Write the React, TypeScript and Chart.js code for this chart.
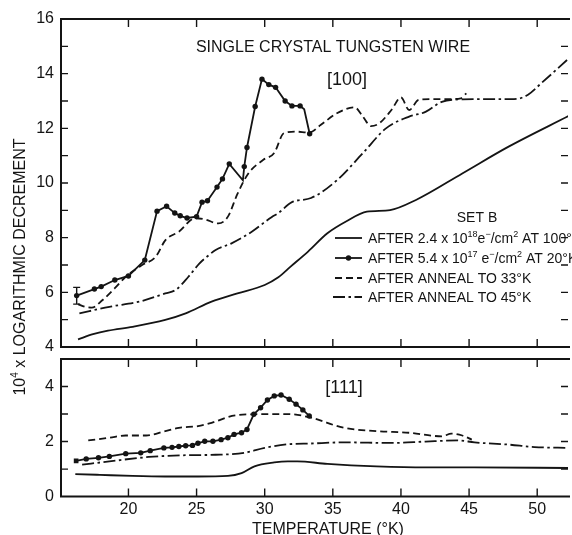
import React, { useEffect, useRef } from "react";
import { Chart, registerables } from "chart.js";

Chart.register(...registerables);

type P = [number, number];

const INK = "#141414";
const FONT = "'Liberation Sans', Arial, sans-serif";

// ---- axes ----
const X_MIN = 15.05;
const X_MAX = 52.26;
const X_TICKS = [20, 25, 30, 35, 40, 45, 50];
const TOP_Y_LABELS = [4, 6, 8, 10, 12, 14, 16];
const TOP_Y_MINOR = [5, 6, 7, 8, 9, 10, 11, 12, 13, 14, 15];
const BOT_Y_LABELS = [0, 2, 4];
const BOT_Y_MINOR = [1, 2, 3, 4];

// ---- [100] panel ----
const top100K: P[] = [
  [16.3, 4.28], [17.4, 4.47], [18.5, 4.6], [20.3, 4.74], [22.7, 4.99], [24.2, 5.23],
  [26.1, 5.66], [28.0, 5.96], [30.0, 6.27], [31.0, 6.55], [31.9, 6.94], [33.2, 7.5],
  [34.6, 8.16], [36.0, 8.6], [37.5, 8.95], [39.2, 9.01], [41.1, 9.38], [44.5, 10.35],
  [47.9, 11.33], [52.3, 12.45],
];
const top20K: P[] = [
  [16.2, 5.88], [17.5, 6.12], [18.0, 6.21], [19.0, 6.45], [20.0, 6.6], [21.2, 7.18],
  [22.1, 8.97], [22.8, 9.15], [23.4, 8.9], [23.8, 8.8], [24.3, 8.72], [25.0, 8.77],
  [25.4, 9.3], [25.8, 9.35], [26.5, 9.85], [26.9, 10.15], [27.4, 10.7], [28.4, 10.1],
  [28.5, 10.6], [28.7, 11.3], [29.3, 12.8], [29.8, 13.8], [30.3, 13.6], [30.8, 13.5],
  [31.5, 13.0], [32.0, 12.82], [32.6, 12.82], [32.9, 12.7], [33.3, 11.8],
];
const top20KDots = [1, 1, 1, 1, 1, 1, 1, 1, 1, 1, 1, 1, 1, 1, 1, 1, 1, 0, 1, 1, 1, 1, 1, 1, 1, 1, 1, 0, 1];
const top33K: P[] = [
  [16.3, 5.57], [16.8, 5.47], [17.3, 5.44], [18.1, 5.72], [19.0, 6.15], [19.8, 6.57],
  [21.0, 7.0], [22.0, 7.3], [22.7, 7.9], [23.7, 8.22], [24.9, 8.71], [25.6, 8.67],
  [26.6, 8.52], [27.3, 8.77], [28.0, 9.6], [28.8, 10.35], [29.9, 10.85], [30.7, 11.1],
  [31.4, 11.82], [32.2, 11.88], [33.3, 11.85], [34.1, 12.12], [35.3, 12.55], [36.6, 12.77],
  [37.2, 12.43], [37.8, 12.08], [38.4, 12.18], [39.3, 12.67], [40.0, 13.13], [40.6, 12.67],
  [41.3, 13.04], [42.3, 13.07], [43.5, 13.07], [44.4, 13.1], [44.8, 13.28],
];
const top45K: P[] = [
  [16.4, 5.23], [18.6, 5.47], [20.8, 5.66], [22.7, 5.96], [23.5, 6.1], [24.4, 6.57],
  [25.2, 7.05], [25.9, 7.36], [26.4, 7.55], [27.6, 7.8], [29.0, 8.2], [30.5, 8.75],
  [31.0, 8.9], [32.0, 9.3], [33.4, 9.45], [35.3, 10.1], [37.2, 11.09], [38.9, 12.0],
  [40.6, 12.43], [41.8, 12.6], [43.0, 12.97], [44.5, 13.06], [46.5, 13.07], [48.3, 13.07],
  [49.3, 13.22], [50.3, 13.65], [52.3, 14.55],
];
const topErrorBar = { x: 16.2, lo: 5.57, hi: 6.18 };

// ---- [111] panel ----
const bot100K: P[] = [
  [16.1, 0.82], [17.9, 0.79], [20.3, 0.75], [22.7, 0.73], [25.1, 0.73], [27.3, 0.75],
  [28.3, 0.85], [29.25, 1.1], [30.7, 1.24], [31.7, 1.28], [32.4, 1.28], [34.6, 1.19],
  [38.2, 1.1], [41.8, 1.06], [45.4, 1.06], [52.3, 1.04],
];
const bot20K: P[] = [
  [16.16, 1.3], [16.9, 1.37], [17.8, 1.41], [18.6, 1.46], [19.8, 1.56], [20.9, 1.59],
  [21.6, 1.67], [22.6, 1.77], [23.2, 1.79], [23.7, 1.82], [24.2, 1.85], [24.7, 1.86],
  [25.1, 1.94], [25.6, 2.01], [26.2, 2.01], [26.8, 2.07], [27.3, 2.14], [27.75, 2.26],
  [28.3, 2.32], [28.7, 2.44], [29.2, 2.99], [29.7, 3.23], [30.2, 3.51], [30.7, 3.66],
  [31.2, 3.69], [31.8, 3.54], [32.3, 3.36], [32.8, 3.15], [33.27, 2.93],
];
const bot33K: P[] = [
  [17.05, 2.04], [18.6, 2.14], [19.8, 2.22], [21.3, 2.22], [22.7, 2.38], [23.7, 2.5],
  [25.1, 2.56], [26.1, 2.68], [27.6, 2.93], [29.0, 2.99], [31.7, 3.0], [33.4, 2.87],
  [35.8, 2.5], [38.2, 2.38], [40.6, 2.32], [43.0, 2.19], [43.7, 2.29], [44.5, 2.22],
  [45.2, 2.07],
];
const bot45K: P[] = [
  [16.6, 1.16], [18.6, 1.28], [21.5, 1.44], [23.9, 1.5], [26.4, 1.52], [28.5, 1.59],
  [30.0, 1.77], [31.7, 1.9], [33.4, 1.93], [35.8, 1.97], [39.4, 1.95], [41.8, 2.0],
  [44.2, 2.04], [45.4, 1.97], [47.9, 1.89], [49.8, 1.8], [52.3, 1.77],
];

// ---- texts ----
type Run = { t: string; sup?: boolean };
const TITLE = "SINGLE CRYSTAL TUNGSTEN WIRE";
const TOP_TAG = "[100]";
const BOT_TAG = "[111]";
const LEGEND_HEAD = "SET B";
const LEGEND_ROWS: { style: string; runs: Run[] }[] = [
  { style: "solid", runs: [{ t: "AFTER 2.4 x 10" }, { t: "18", sup: true }, { t: "e" }, { t: "\u2212", sup: true }, { t: "/cm" }, { t: "2", sup: true }, { t: " AT 100\u00B0K" }] },
  { style: "dots", runs: [{ t: "AFTER 5.4 x 10" }, { t: "17", sup: true }, { t: " e" }, { t: "\u2212", sup: true }, { t: "/cm" }, { t: "2", sup: true }, { t: " AT 20\u00B0K" }] },
  { style: "dash", runs: [{ t: "AFTER ANNEAL TO 33\u00B0K" }] },
  { style: "dashdot", runs: [{ t: "AFTER ANNEAL TO 45\u00B0K" }] },
];
const Y_TITLE: Run[] = [{ t: "10" }, { t: "4", sup: true }, { t: " x LOGARITHMIC DECREMENT" }];
const X_TITLE = "TEMPERATURE (\u00B0K)";

const DASH = [7, 4];
const DASHDOT = [12, 3.5, 2.5, 3.5];
const LW = 1.8;

function drawRuns(ctx: CanvasRenderingContext2D, runs: Run[], x: number, y: number, size: number, align: "left" | "center") {
  const fontFor = (r: Run) => `${r.sup ? Math.round(size * 0.65) : size}px ${FONT}`;
  const widths = runs.map((r) => {
    ctx.font = fontFor(r);
    return ctx.measureText(r.t).width;
  });
  const total = widths.reduce((a, b) => a + b, 0);
  let cx = align === "center" ? x - total / 2 : x;
  ctx.textAlign = "left";
  ctx.textBaseline = "alphabetic";
  runs.forEach((r, i) => {
    ctx.font = fontFor(r);
    ctx.fillText(r.t, cx, r.sup ? y - size * 0.42 : y);
    cx += widths[i];
  });
}

function lineDs(data: P[], kind: string, extra: any = {}) {
  const base: any = {
    data: data.map(([x, y]) => ({ x, y })),
    borderColor: INK,
    borderWidth: LW,
    pointRadius: 0,
    fill: false,
    tension: 0.4,
    cubicInterpolationMode: "monotone",
    borderDash: [],
  };
  if (kind === "dash") base.borderDash = DASH;
  if (kind === "dashdot") base.borderDash = DASHDOT;
  if (kind === "dots") {
    base.tension = 0;
    base.cubicInterpolationMode = "default";
    base.pointRadius = 2.7;
    base.pointBackgroundColor = INK;
    base.pointBorderColor = INK;
    base.pointBorderWidth = 0;
  }
  return { ...base, ...extra };
}

function strokeSample(ctx: CanvasRenderingContext2D, style: string, x0: number, x1: number, y: number) {
  ctx.save();
  ctx.strokeStyle = INK;
  ctx.fillStyle = INK;
  ctx.lineWidth = LW;
  ctx.setLineDash(style === "dash" ? DASH : style === "dashdot" ? DASHDOT : []);
  ctx.beginPath();
  ctx.moveTo(x0, y);
  ctx.lineTo(x1, y);
  ctx.stroke();
  if (style === "dots") {
    ctx.beginPath();
    ctx.arc((x0 + x1) / 2, y, 2.7, 0, Math.PI * 2);
    ctx.fill();
  }
  ctx.restore();
}

function panelPlugin(minor: number[], decorate: (chart: any) => void) {
  return {
    id: "panelFrame",
    afterDraw(chart: any) {
      const { ctx, chartArea: a, scales } = chart;
      ctx.save();
      ctx.strokeStyle = INK;
      ctx.lineWidth = 2;
      ctx.beginPath();
      ctx.moveTo(a.right + 2, a.top);
      ctx.lineTo(a.left, a.top);
      ctx.lineTo(a.left, a.bottom);
      ctx.lineTo(a.right + 2, a.bottom);
      ctx.stroke();
      ctx.lineWidth = 1.4;
      ctx.beginPath();
      X_TICKS.forEach((v) => {
        const px = scales.x.getPixelForValue(v);
        ctx.moveTo(px, a.top);
        ctx.lineTo(px, a.top + 8);
        ctx.moveTo(px, a.bottom);
        ctx.lineTo(px, a.bottom - 8);
      });
      minor.forEach((v) => {
        const py = scales.y.getPixelForValue(v);
        ctx.moveTo(a.left, py);
        ctx.lineTo(a.left + 7, py);
        ctx.moveTo(a.right, py);
        ctx.lineTo(a.right - 7, py);
      });
      ctx.stroke();
      ctx.fillStyle = INK;
      decorate(chart);
      ctx.restore();
    },
  };
}

const tickFont = { family: FONT, size: 16 };

function App() {
  const topRef = useRef<HTMLCanvasElement>(null);
  const botRef = useRef<HTMLCanvasElement>(null);

  useEffect(() => {
    const top = new Chart(topRef.current as HTMLCanvasElement, {
      type: "line",
      data: {
        datasets: [
          lineDs(top100K, "solid"),
          lineDs(top20K, "dots", { pointRadius: top20KDots.map((d) => (d ? 2.7 : 0)) }),
          lineDs(top33K, "dash"),
          lineDs(top45K, "dashdot"),
        ],
      },
      options: {
        animation: false,
        responsive: false,
        layout: { padding: { top: 19, bottom: 188, left: 0, right: 0 } },
        plugins: { legend: { display: false }, tooltip: { enabled: false } },
        scales: {
          x: {
            type: "linear",
            min: X_MIN,
            max: X_MAX,
            display: false,
            afterBuildTicks: (s: any) => { s.ticks = X_TICKS.map((v) => ({ value: v })); },
          },
          y: {
            type: "linear",
            min: 4,
            max: 16,
            grid: { display: false, drawTicks: false },
            border: { display: false },
            ticks: { color: INK, font: tickFont, padding: 7 },
            afterBuildTicks: (s: any) => { s.ticks = TOP_Y_LABELS.map((v) => ({ value: v })); },
            afterFit: (s: any) => { s.width = 61; },
          },
        },
      } as any,
      plugins: [
        panelPlugin(TOP_Y_MINOR, (chart: any) => {
          const { ctx, scales } = chart;
          // error bar
          const ex = scales.x.getPixelForValue(topErrorBar.x);
          const ylo = scales.y.getPixelForValue(topErrorBar.lo);
          const yhi = scales.y.getPixelForValue(topErrorBar.hi);
          ctx.lineWidth = 1.4;
          ctx.setLineDash([]);
          ctx.beginPath();
          ctx.moveTo(ex, ylo); ctx.lineTo(ex, yhi);
          ctx.moveTo(ex - 3.5, ylo); ctx.lineTo(ex + 3.5, ylo);
          ctx.moveTo(ex - 3.5, yhi); ctx.lineTo(ex + 3.5, yhi);
          ctx.stroke();
          // title & tag
          ctx.font = `16px ${FONT}`;
          ctx.textAlign = "center";
          ctx.textBaseline = "alphabetic";
          ctx.fillText(TITLE, 333, 52);
          ctx.font = `18px ${FONT}`;
          ctx.fillText(TOP_TAG, 347, 85);
          // legend
          ctx.font = `14px ${FONT}`;
          ctx.fillText(LEGEND_HEAD, 477, 222);
          const bases = [243, 263, 283, 302];
          LEGEND_ROWS.forEach((row, i) => {
            strokeSample(ctx, row.style, row.style === "dashdot" ? 333 : 335, 362, bases[i] - 5);
            ctx.fillStyle = INK;
            drawRuns(ctx, row.runs, 368, bases[i], 14, "left");
          });
          // y title
          ctx.save();
          ctx.translate(25, 267);
          ctx.rotate(-Math.PI / 2);
          drawRuns(ctx, Y_TITLE, 0, 0, 16, "center");
          ctx.restore();
        }),
      ],
    });

    const bot = new Chart(botRef.current as HTMLCanvasElement, {
      type: "line",
      data: {
        datasets: [
          lineDs(bot100K, "solid"),
          lineDs(bot20K, "dots", { pointStyle: bot20K.map((_, i) => (i === 0 ? "rect" : "circle")), pointRadius: bot20K.map((_, i) => (i === 0 ? 3.3 : 2.7)) }),
          lineDs(bot33K, "dash"),
          lineDs(bot45K, "dashdot"),
        ],
      },
      options: {
        animation: false,
        responsive: false,
        layout: { padding: { top: 359, bottom: 0, left: 0, right: 0 } },
        plugins: { legend: { display: false }, tooltip: { enabled: false } },
        scales: {
          x: {
            type: "linear",
            min: X_MIN,
            max: X_MAX,
            grid: { display: false, drawTicks: false },
            border: { display: false },
            ticks: { color: INK, font: tickFont, padding: 3, maxRotation: 0, autoSkip: false },
            afterBuildTicks: (s: any) => { s.ticks = X_TICKS.map((v) => ({ value: v })); },
            afterFit: (s: any) => { s.height = 38.4; },
          },
          y: {
            type: "linear",
            min: 0,
            max: 5,
            grid: { display: false, drawTicks: false },
            border: { display: false },
            ticks: { color: INK, font: tickFont, padding: 7 },
            afterBuildTicks: (s: any) => { s.ticks = BOT_Y_LABELS.map((v) => ({ value: v })); },
            afterFit: (s: any) => { s.width = 61; },
          },
        },
      } as any,
      plugins: [
        panelPlugin(BOT_Y_MINOR, (chart: any) => {
          const { ctx } = chart;
          ctx.font = `18px ${FONT}`;
          ctx.textAlign = "center";
          ctx.textBaseline = "alphabetic";
          ctx.fillText(BOT_TAG, 344, 393);
          ctx.font = `16px ${FONT}`;
          ctx.fillText(X_TITLE, 328, 534);
        }),
      ],
    });

    return () => {
      top.destroy();
      bot.destroy();
    };
  }, []);

  const abs: React.CSSProperties = { position: "absolute", left: 0, top: 0, width: 572, height: 535 };
  return (
    <div style={{ ...abs, background: "#fff", overflow: "hidden" }}>
      <canvas ref={topRef} width={572} height={535} style={abs} />
      <canvas ref={botRef} width={572} height={535} style={abs} />
    </div>
  );
}

export default App;
